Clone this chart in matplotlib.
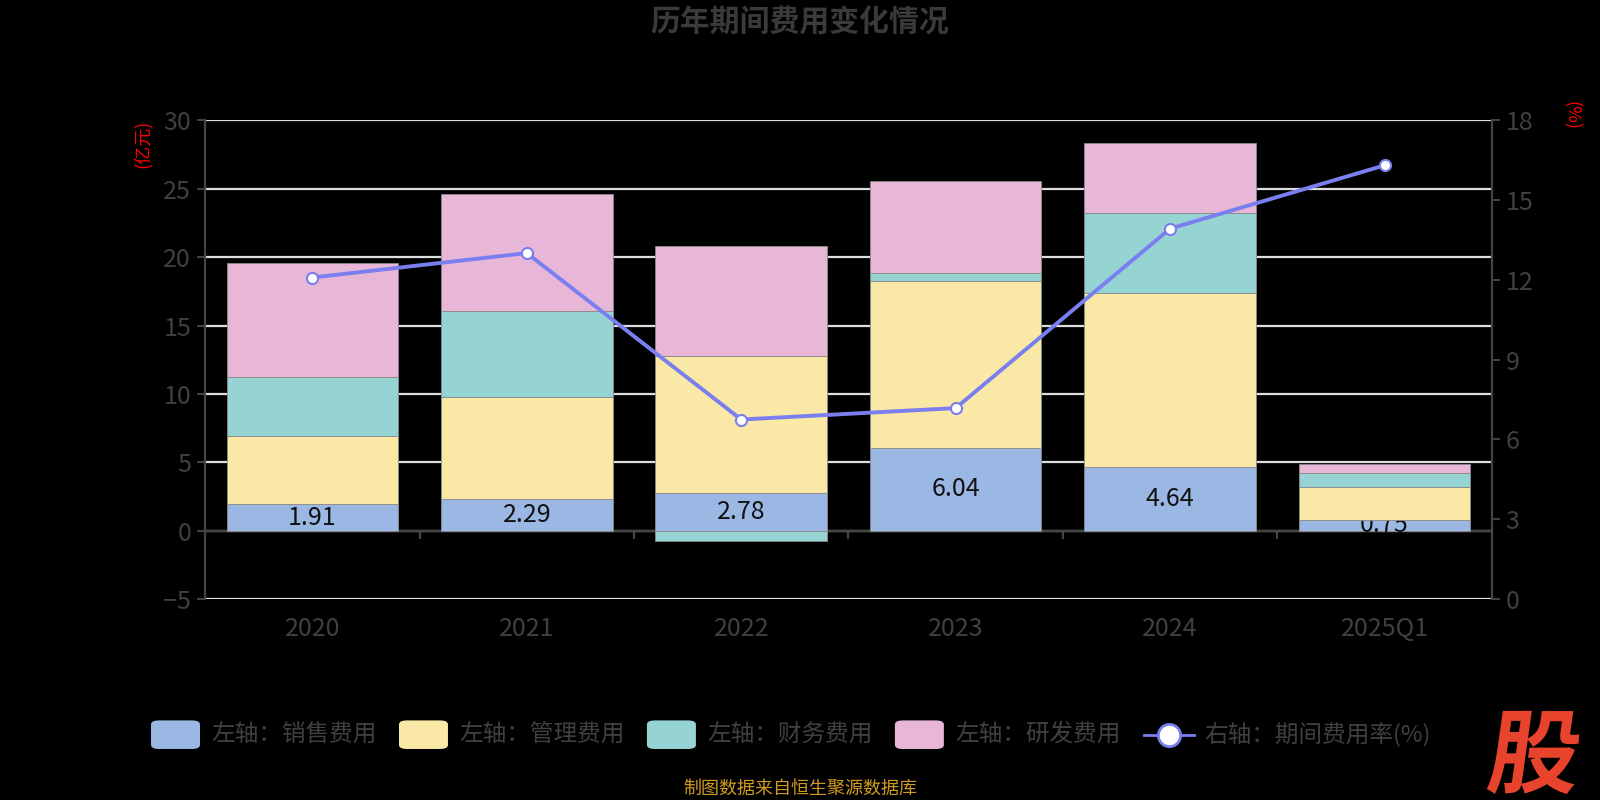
import matplotlib.pyplot as plt
import numpy as np
from matplotlib.patches import FancyBboxPatch, PathPatch
from matplotlib.lines import Line2D
from matplotlib.textpath import TextPath
from matplotlib.font_manager import FontProperties
from matplotlib.transforms import Affine2D

plt.rcParams['font.family'] = ['Noto Sans CJK SC', 'DejaVu Sans']

# ______________________________________________________________________________
# Data (亿元 / %)

years = ['2020', '2021', '2022', '2023', '2024', '2025Q1']
sales = [1.91, 2.29, 2.78, 6.04, 4.64, 0.75]
admin = [5.03, 7.49, 9.98, 12.24, 12.75, 2.46]
finance = [4.33, 6.26, -0.75, 0.53, 5.82, 1.04]
rnd = [8.28, 8.59, 8.06, 6.79, 5.15, 0.60]
expense_rate = [12.09, 13.01, 6.75, 7.18, 13.93, 16.31]

series_names = ['左轴：销售费用', '左轴：管理费用', '左轴：财务费用', '左轴：研发费用']
line_name = '右轴：期间费用率(%)'
colors = ['#9ab8e3', '#f9e8a6', '#96d4d4', '#e8b7d8']
line_color = '#7a7ff0'
text_gray = '#404040'

W, H = 1568.0, 784.0


def fx(px):
    return px / W


def fy(py):
    return 1 - py / H


fig = plt.figure(figsize=(16, 8), dpi=100, facecolor='black')
ax = fig.add_axes([fx(201), fy(587), fx(1462) - fx(201), fy(118) - fy(587)])
ax.set_facecolor('black')

x = np.arange(len(years))
width = 0.8

# stack: positives upward, negatives downward
pos_base = np.zeros(len(years))
neg_base = np.zeros(len(years))
for i, vals in enumerate([sales, admin, finance, rnd]):
    vals = np.array(vals)
    bottoms = np.where(vals >= 0, pos_base, neg_base)
    ax.bar(x, vals, width, bottom=bottoms, color=colors[i],
           edgecolor='#8a8a8a', linewidth=0.6, zorder=2 if i == 0 else 3)
    pos_base = pos_base + np.where(vals >= 0, vals, 0)
    neg_base = neg_base + np.where(vals < 0, vals, 0)

for xi, v in zip(x, sales):
    ax.text(xi, v / 2, '{:.2f}'.format(v), ha='center', va='center',
            fontsize=18, color='#111111', zorder=2.5)

ax.set_xlim(-0.5, len(years) - 0.5)
ax.set_ylim(-5, 30)
ax.set_yticks(range(-5, 31, 5))
ax.grid(axis='y', color='#dddddd', linewidth=1.6, zorder=0)
ax.set_axisbelow(True)
ax.axhline(0, color='#444444', linewidth=1.6, zorder=1.5)
ax.vlines(np.arange(0.5, len(years) - 0.5), -0.6, 0, color='#444444',
          linewidth=1.6, zorder=1.5)

ax.set_xticks(x)
ax.set_xticklabels(years)
ax.tick_params(axis='x', length=0, pad=12, labelsize=18, labelcolor=text_gray)
ax.tick_params(axis='y', length=6, width=1.4, color='#444444', pad=4,
               labelsize=18, labelcolor=text_gray)
for side in ['top', 'bottom', 'right']:
    ax.spines[side].set_visible(False)
ax.spines['left'].set_color('#444444')
ax.spines['left'].set_linewidth(1.6)

ax2 = ax.twinx()
ax2.set_ylim(0, 18)
ax2.set_yticks(range(0, 19, 3))
ax2.plot(x, expense_rate, color=line_color, linewidth=2.8, marker='o',
         markersize=8, markerfacecolor='white', markeredgecolor=line_color,
         markeredgewidth=1.5, zorder=5)
ax2.tick_params(axis='y', length=6, width=1.4, color='#444444', pad=4,
                labelsize=18, labelcolor=text_gray)
for side in ['top', 'bottom', 'left']:
    ax2.spines[side].set_visible(False)
ax2.spines['right'].set_color('#444444')
ax2.spines['right'].set_linewidth(1.6)

# unit labels
fig.text(fx(140), fy(141), '(亿元)', rotation=90, color='red', fontsize=13,
         ha='center', va='center')
fig.text(fx(1540), fy(113), '(%)', rotation=270, color='red', fontsize=13,
         ha='center', va='center')

# title
fig.text(0.5, fy(22), '历年期间费用变化情况', ha='center', va='center',
         fontsize=21.5, fontweight='bold', color='#3a3a3a')

# legend
patch_x = [148, 391, 634, 877]
for px, name, c in zip(patch_x, series_names, colors):
    fig.patches.append(FancyBboxPatch((fx(px), fy(734)), fx(48), fy(706) - fy(734),
                                      boxstyle='round,pad=0,rounding_size=0.005',
                                      transform=fig.transFigure, facecolor=c,
                                      edgecolor='none'))
    fig.text(fx(px + 59), fy(719), name, ha='left', va='center',
             fontsize=17, color=text_gray)
fig.lines.append(Line2D([fx(1121), fx(1170)], [fy(720), fy(720)],
                        transform=fig.transFigure, color=line_color, linewidth=2))
fig.lines.append(Line2D([fx(1146)], [fy(720)], transform=fig.transFigure,
                        marker='o', markersize=16, markerfacecolor='white',
                        markeredgecolor=line_color, markeredgewidth=2))
fig.text(fx(1180), fy(719), line_name, ha='left', va='center',
         fontsize=17, color=text_gray)

# source note
fig.text(0.5, fy(773), '制图数据来自恒生聚源数据库', ha='center', va='center',
         fontsize=13, color='#d09a20')

# logo
fp = FontProperties(family='Noto Sans CJK SC', weight='heavy')
tp = TextPath((0, 0), '股', size=90, prop=fp)
tr = Affine2D().skew_deg(8, 0).translate(1455, 784 - 770) + \
    Affine2D().scale(1 / W, 1 / H) + fig.transFigure
fig.patches.append(PathPatch(tp, transform=tr, facecolor='#e8432c', edgecolor='none'))

fig.savefig('out.png', dpi=100, facecolor='black')
